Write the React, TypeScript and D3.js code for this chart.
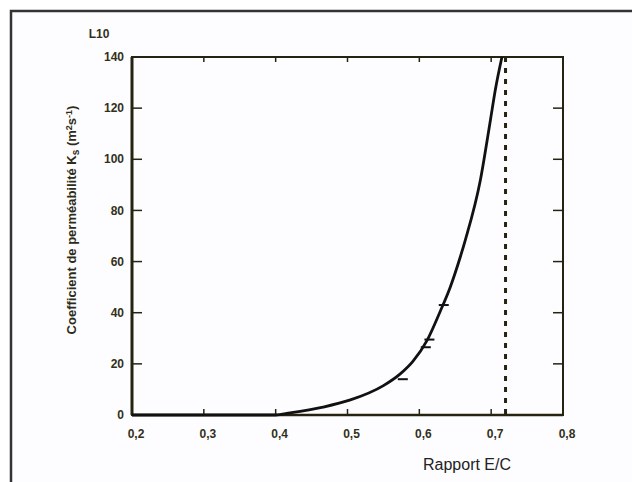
import React from 'react'
import * as d3 from 'd3'

// Rapport E/C vs coefficient de perméabilité (x 10^-10 ?)
const ratio = [0.2, 0.3, 0.4, 0.42, 0.466, 0.504, 0.55, 0.573, 0.591, 0.611, 0.629, 0.643, 0.657, 0.664, 0.685, 0.699, 0.706, 0.715]
const coeff = [0, 0, 0, 0.8, 3.1, 5.9, 11.5, 16, 21, 29.3, 40.5, 50, 61.8, 68.4, 91.9, 115.4, 127.5, 140]
// small dash marks sitting on the curve
const markRatio = [0.577, 0.609, 0.614, 0.634]
const markCoeff = [14, 26.5, 29.5, 43]
const xTicks = [0.2, 0.3, 0.4, 0.5, 0.6, 0.7, 0.8]
const yTicks = [0, 20, 40, 60, 80, 100, 120, 140]
const criticalRatio = 0.72

const ink = '#262410'

export default function App() {
  const x = d3.scaleLinear().domain([0.2, 0.8]).range([132, 563])
  const y = d3.scaleLinear().domain([0, 140]).range([415, 57])

  const line = d3.line<number>()
    .x((_, i) => x(ratio[i]))
    .y(d => y(d))
    .curve(d3.curveMonotoneX)

  const fmt = (v: number) => v.toFixed(1).replace('.', ',')

  return (
    <svg width={632} height={482} style={{ position: 'absolute', left: 0, top: 0 }}>
      <rect x={0} y={0} width={632} height={482} fill="#fff" />
      <rect x={11} y={11} width={700} height={600} fill="#fdfdff" stroke="#333" strokeWidth={2.5} />

      {/* plot frame */}
      <rect x={132} y={57} width={431} height={358} fill="none" stroke={ink} strokeWidth={2} />
      <line x1={132} x2={132} y1={57} y2={415} stroke={ink} strokeWidth={3} />
      <line x1={132} x2={563} y1={415} y2={415} stroke={ink} strokeWidth={2.5} />

      {yTicks.map(t => (
        <g key={'y' + t}>
          <line x1={132} x2={142} y1={y(t)} y2={y(t)} stroke={ink} strokeWidth={1.5} />
          <line x1={553} x2={563} y1={y(t)} y2={y(t)} stroke={ink} strokeWidth={1.5} />
          <text x={124} y={y(t)} dy="0.35em" textAnchor="end" fontFamily="Liberation Sans, Arial, sans-serif" fontSize={12} fontWeight="bold" fill="#33301a">{t}</text>
        </g>
      ))}
      {xTicks.map(t => (
        <g key={'x' + t}>
          <line x1={x(t)} x2={x(t)} y1={415} y2={409} stroke={ink} strokeWidth={1.5} />
          <line x1={x(t)} x2={x(t)} y1={57} y2={62} stroke={ink} strokeWidth={1.5} />
          <text x={x(t) + 4} y={438} textAnchor="middle" fontFamily="Liberation Sans, Arial, sans-serif" fontSize={12} fontWeight="bold" fill="#33301a">{fmt(t)}</text>
        </g>
      ))}

      <line x1={x(criticalRatio)} x2={x(criticalRatio)} y1={y(140)} y2={y(0)} stroke={ink} strokeWidth={3} strokeDasharray="5 6" />

      <path d={line(coeff) ?? ''} fill="none" stroke="#111" strokeWidth={2.8} />
      {markRatio.map((r, i) => (
        <line key={'m' + i} x1={x(r) - 5} x2={x(r) + 5} y1={y(markCoeff[i])} y2={y(markCoeff[i])} stroke="#111" strokeWidth={2} />
      ))}

      <text x={99} y={38} textAnchor="middle" fontFamily="Liberation Sans, Arial, sans-serif" fontSize={12} fontWeight="bold" fill="#33301a">L10</text>

      <text transform="translate(76,220) rotate(-90)" textAnchor="middle" fontFamily="Liberation Sans, Arial, sans-serif" fontSize={13} fontWeight="bold" fill="#2e2c14">
        Coefficient de perméabilité K<tspan fontSize={10} dy={3}>s</tspan>
        <tspan dy={-3}> (m</tspan><tspan fontSize={9} dy={-4}>2</tspan><tspan dy={4}>s</tspan><tspan fontSize={9} dy={-4}>-1</tspan><tspan dy={4}>)</tspan>
      </text>

      <text x={423} y={470} fontFamily="Liberation Sans, Arial, sans-serif" fontSize={16} fill="#222">Rapport E/C</text>
    </svg>
  )
}
